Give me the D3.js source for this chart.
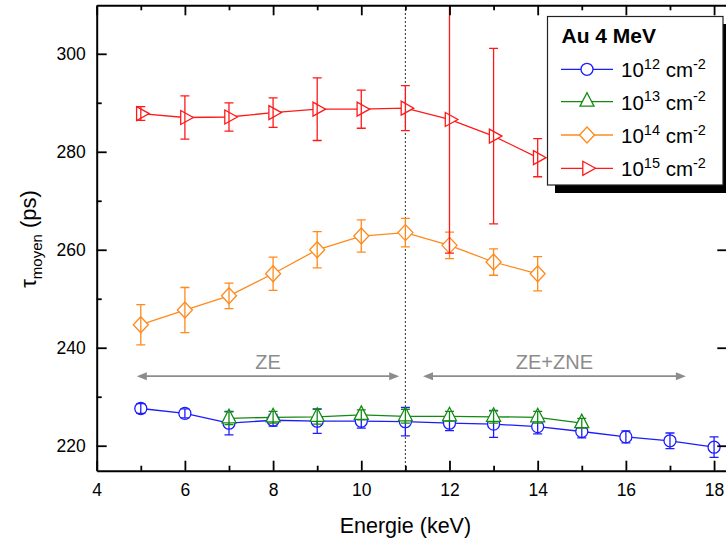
<!DOCTYPE html>
<html><head><meta charset="utf-8">
<script src="https://cdn.jsdelivr.net/npm/d3@7"></script>
<style>
body{margin:0;background:#fff;}
svg{display:block;font-family:"Liberation Sans",Arial,Helvetica,sans-serif;}
</style>
</head><body>
<svg id="c" width="726" height="543"></svg>
<script>
// ---------- data ----------
const xMajorTicks = [4, 6, 8, 10, 12, 14, 16, 18];
const xMinorTicks = [5, 7, 9, 11, 13, 15, 17];
const yMajorTicks = [220, 240, 260, 280, 300];
const yMinorTicks = [230, 250, 270, 290];

const legendTitle = "Au 4 MeV";
const fluenceExponents = ["12", "13", "14", "15"];

const energy12 = [5, 6, 7, 8, 9, 10, 11, 12, 13, 14, 15, 16, 17, 18];
const tau12    = [227.6, 226.6, 224.6, 225.2, 225.0, 225.0, 224.9, 224.6, 224.4, 223.9, 222.9, 221.8, 221.0, 219.7];
const err12    = [1.0, 0.9, 2.4, 1.2, 2.5, 1.4, 2.9, 1.5, 2.7, 1.5, 1.3, 1.2, 1.6, 2.1];

const energy13 = [7, 8, 9, 10, 11, 12, 13, 14, 15];
const tau13    = [225.6, 225.8, 225.9, 226.3, 226.0, 226.0, 225.9, 225.8, 224.6];
const err13    = [1.3, 1.2, 1.5, 1.0, 1.4, 1.0, 1.3, 1.2, 1.0];

const energy14 = [5, 6, 7, 8, 9, 10, 11, 12, 13, 14];
const tau14    = [244.7, 247.7, 250.6, 255.1, 260.0, 262.8, 263.5, 260.9, 257.5, 255.1];
const err14    = [4.1, 4.6, 2.6, 3.4, 3.7, 3.3, 2.9, 2.7, 2.7, 3.5];

const energy15 = [5, 6, 7, 8, 9, 10, 11, 12, 13, 14];
const tau15    = [287.8, 287.0, 287.1, 288.0, 288.7, 288.7, 288.9, 286.6, 283.2, 278.8];
const err15    = [1.4, 4.4, 2.9, 3.0, 6.4, 3.9, 4.6, 27.3, 17.9, 3.9];

const boundaryEnergy = 11;
const zoneLabels = ["ZE", "ZE+ZNE"];
const zoneFrom   = [4.91, 11.40];
const zoneTo     = [10.86, 17.36];
const zoneLevel  = 234.2;
const zoneTextLevel = 235.6;

// ---------- setup ----------
const svg = d3.select("#c");
const L = 96.7, R = 727.3, T = 5.3, B = 470.7;
const x = d3.scaleLinear().domain([4, 18.3]).range([L, R]);
const y = d3.scaleLinear().domain([214.9, 309.9]).range([B, T]);

svg.append("defs").append("clipPath").attr("id", "plotclip")
  .append("rect").attr("x", L).attr("y", T).attr("width", R - L).attr("height", B - T);

const colors = ["#1c1cff", "#138a13", "#ff8a1c", "#ff1a1a"];

// ---------- marker shapes ----------
const shapes = [
  "M6,0A6,6 0 1,1 -6,0A6,6 0 1,1 6,0Z",
  "M0,-9L7,4.5L-7,4.5Z",
  "M0,-8L7.5,0L0,8L-7.5,0Z",
  "M-4.2,-7L8.4,0L-4.2,7Z"
];

// ---------- zone annotations ----------
const ann = svg.append("g");
const gray = "#8c8c8c";
zoneLabels.forEach((lab, i) => {
  const x1 = x(zoneFrom[i]), x2 = x(zoneTo[i]), yy = y(zoneLevel);
  ann.append("line").attr("x1", x1 + 6).attr("x2", x2 - 6).attr("y1", yy).attr("y2", yy)
    .attr("stroke", gray).attr("stroke-width", 1.6);
  ann.append("path").attr("d", `M${x1},${yy}L${x1 + 10},${yy - 4}L${x1 + 10},${yy + 4}Z`).attr("fill", gray);
  ann.append("path").attr("d", `M${x2},${yy}L${x2 - 10},${yy - 4}L${x2 - 10},${yy + 4}Z`).attr("fill", gray);
  ann.append("text").attr("x", (x1 + x2) / 2).attr("y", y(zoneTextLevel))
    .attr("text-anchor", "middle").attr("font-size", 20).attr("fill", gray).text(lab);
});

// ---------- boundary line ----------
svg.append("line").attr("x1", x(boundaryEnergy)).attr("x2", x(boundaryEnergy))
  .attr("y1", T).attr("y2", B).attr("stroke", "#000").attr("stroke-width", 1.1)
  .attr("stroke-dasharray", "1.5,2.5");

// ---------- series ----------
const series = [
  {xs: energy12, ys: tau12, es: err12},
  {xs: energy13, ys: tau13, es: err13},
  {xs: energy14, ys: tau14, es: err14},
  {xs: energy15, ys: tau15, es: err15}
];
const plot = svg.append("g").attr("clip-path", "url(#plotclip)");
series.forEach((s, k) => {
  const pts = s.xs.map((v, i) => ({x: v, y: s.ys[i], e: s.es[i]}));
  const g = plot.append("g");
  const c = colors[k];
  g.append("path").datum(pts)
    .attr("d", d3.line().x(d => x(d.x)).y(d => y(d.y)))
    .attr("fill", "none").attr("stroke", c).attr("stroke-width", 1.3);
  g.selectAll(".m").data(pts).join("path")
    .attr("d", shapes[k]).attr("transform", d => `translate(${x(d.x)},${y(d.y)})`)
    .attr("fill", "#fff").attr("stroke", c).attr("stroke-width", 1.3);
  const eb = g.selectAll(".e").data(pts).join("g")
    .attr("stroke", c).attr("stroke-width", 1.3);
  eb.append("line").attr("x1", d => x(d.x)).attr("x2", d => x(d.x))
    .attr("y1", d => y(d.y + d.e)).attr("y2", d => y(d.y - d.e));
  eb.append("line").attr("x1", d => x(d.x) - 4.5).attr("x2", d => x(d.x) + 4.5)
    .attr("y1", d => y(d.y + d.e)).attr("y2", d => y(d.y + d.e));
  eb.append("line").attr("x1", d => x(d.x) - 4.5).attr("x2", d => x(d.x) + 4.5)
    .attr("y1", d => y(d.y - d.e)).attr("y2", d => y(d.y - d.e));
});

// ---------- axes ----------
function styleAxis(g, keepDomain) {
  g.selectAll(".tick line").attr("stroke", "#000").attr("stroke-width", 1.8);
  g.selectAll(".tick text").attr("font-size", 17.5).attr("fill", "#000")
    .attr("font-family", '"Liberation Sans",Arial,sans-serif');
  if (keepDomain) g.select(".domain").attr("stroke", "#000").attr("stroke-width", 2);
  else g.select(".domain").remove();
}
styleAxis(svg.append("g").attr("transform", `translate(0,${B})`)
  .call(d3.axisBottom(x).tickValues(xMajorTicks).tickSize(-10).tickSizeOuter(0).tickPadding(12.5).tickFormat(d3.format("d"))), true);
styleAxis(svg.append("g").attr("transform", `translate(0,${B})`)
  .call(d3.axisBottom(x).tickValues(xMinorTicks).tickSize(-5).tickSizeOuter(0).tickFormat("")), false);
styleAxis(svg.append("g").attr("transform", `translate(0,${T})`)
  .call(d3.axisTop(x).tickValues(xMajorTicks).tickSize(-10).tickSizeOuter(0).tickFormat("")), true);
styleAxis(svg.append("g").attr("transform", `translate(0,${T})`)
  .call(d3.axisTop(x).tickValues(xMinorTicks).tickSize(-5).tickSizeOuter(0).tickFormat("")), false);
styleAxis(svg.append("g").attr("transform", `translate(${L},0)`)
  .call(d3.axisLeft(y).tickValues(yMajorTicks).tickSize(-10).tickSizeOuter(0).tickPadding(11).tickFormat(d3.format("d"))), true);
styleAxis(svg.append("g").attr("transform", `translate(${L},0)`)
  .call(d3.axisLeft(y).tickValues(yMinorTicks).tickSize(-5).tickSizeOuter(0).tickFormat("")), false);
styleAxis(svg.append("g").attr("transform", `translate(${R},0)`)
  .call(d3.axisRight(y).tickValues(yMajorTicks).tickSize(-10).tickSizeOuter(0).tickFormat("")), true);

// ---------- axis titles ----------
svg.append("text").attr("x", (L + x(18)) / 2).attr("y", 533).attr("text-anchor", "middle")
  .attr("font-size", 21.5).attr("fill", "#000").text("Energie (keV)");
const yt = svg.append("text").attr("transform", "translate(36,239) rotate(-90)")
  .attr("text-anchor", "middle").attr("font-size", 22).attr("fill", "#000");
yt.append("tspan").text("τ");
yt.append("tspan").attr("font-size", 15).attr("dy", 6).text("moyen");
yt.append("tspan").attr("dy", -6).text(" (ps)");

// ---------- legend ----------
const lg = svg.append("g");
lg.append("rect").attr("x", 555).attr("y", 24).attr("width", 176).attr("height", 169).attr("fill", "#000");
lg.append("rect").attr("x", 547.5).attr("y", 16.5).attr("width", 175.5).attr("height", 168.5)
  .attr("fill", "#fff").attr("stroke", "#222").attr("stroke-width", 1.2);
lg.append("text").attr("x", 561.5).attr("y", 42.5).attr("font-size", 21).attr("font-weight", "bold")
  .attr("fill", "#000").text(legendTitle);
const rowY = [69.3, 101.7, 135, 168.3];
fluenceExponents.forEach((ex, k) => {
  const cy = rowY[k];
  lg.append("line").attr("x1", 561).attr("x2", 613).attr("y1", cy).attr("y2", cy)
    .attr("stroke", colors[k]).attr("stroke-width", 1.3);
  lg.append("path").attr("d", shapes[k]).attr("transform", `translate(587,${cy})`)
    .attr("fill", "#fff").attr("stroke", colors[k]).attr("stroke-width", 1.3);
  const t = lg.append("text").attr("x", 621).attr("y", cy + 8).attr("font-size", 20.5).attr("fill", "#000");
  t.append("tspan").text("10");
  t.append("tspan").attr("font-size", 14.5).attr("dy", -8.5).text(ex);
  t.append("tspan").attr("dy", 8.5).text(" cm");
  t.append("tspan").attr("font-size", 14.5).attr("dy", -8.5).text("-2");
});
</script>
</body></html>
